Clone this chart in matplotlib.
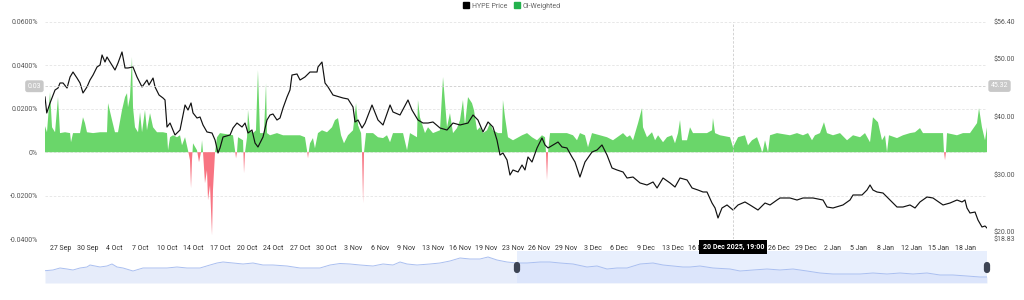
import numpy as np
import matplotlib
matplotlib.use("Agg")
import matplotlib.pyplot as plt
import matplotlib.dates as mdates
from matplotlib.patches import Patch
from datetime import datetime, timedelta

plt.rcParams['font.family'] = ['Roboto', 'DejaVu Sans']

# days counted from 25 Sep 2025 00:00
price_days = [0.53, 0.75, 1.16, 1.79, 2.16, 2.41, 2.79, 3.29, 3.67, 4.04, 4.54, 4.92, 5.29, 5.79, 6.17,
              6.55, 7.05, 7.43, 7.68, 8.05, 8.30, 8.68, 9.30, 9.68, 10.18, 10.56, 10.93, 11.56, 12.06,
              12.69, 13.31, 13.56, 14.07, 14.32, 14.82, 15.32, 15.57, 15.82, 16.20, 16.82, 17.45, 18.08,
              18.45, 18.83, 19.08, 19.58, 19.96, 20.33, 20.83, 21.46, 21.84, 22.21, 22.46, 22.84, 23.72,
              24.09, 24.59, 25.22, 25.60, 25.97, 26.47, 26.85, 27.22, 27.85, 28.35, 28.73, 29.10, 29.60,
              29.98, 30.36, 30.86, 31.23, 31.48, 32.11, 32.49, 33.11, 33.74, 34.62, 34.74, 35.24, 35.62,
              36.00, 36.62, 37.88, 38.50, 39.13, 39.38, 39.76, 40.26, 40.64, 41.51, 42.26, 42.89, 43.77,
              44.14, 45.02, 46.02, 46.52, 47.27, 47.90, 48.53, 49.15, 50.03, 50.91, 51.66, 52.54, 53.54,
              54.17, 54.79, 55.42, 56.05, 56.67, 57.17, 57.55, 57.92, 58.43, 58.80, 59.18, 59.81, 60.31,
              60.68, 61.06, 61.56, 62.19, 62.81, 63.19, 63.57, 64.19, 64.82, 65.32, 65.94, 66.57, 66.95,
              67.57, 68.20, 69.08, 69.71, 70.33, 70.96, 71.59, 72.21, 72.97, 73.47, 74.22, 75.10, 75.97,
              76.73, 77.23, 77.98, 78.86, 79.48, 80.11, 80.99, 81.62, 82.36, 82.99, 83.49, 84.12, 84.50,
              84.87, 85.37, 86.00, 86.75, 87.38, 88.25, 88.88, 89.88, 90.76, 91.39, 92.26, 92.64, 93.89,
              94.77, 95.52, 96.77, 98.03, 98.53, 99.28, 100.53, 101.41, 101.79, 102.92, 103.54, 103.92,
              104.29, 104.79, 105.55, 106.42, 107.30, 108.05, 108.93, 109.56, 110.18, 111.06, 111.81,
              113.07, 113.94, 114.82, 115.45, 115.82, 116.07, 116.45, 117.08, 117.45, 117.95, 118.33, 118.58]
price = [43.42, 40.65, 42.38, 44.63, 44.97, 45.84, 45.84, 44.97, 46.88, 47.74, 46.70, 45.84, 44.11, 45.15, 46.36,
         47.22, 48.61, 48.96, 50.69, 49.47, 50.34, 49.47, 48.09, 49.30, 51.21, 48.44, 48.44, 48.61, 46.88,
         45.15, 46.36, 45.49, 46.70, 45.15, 43.76, 43.24, 42.90, 38.22, 38.91, 36.84, 37.70, 42.03,
         41.16, 42.38, 40.65, 39.78, 39.95, 38.57, 37.36, 37.18, 35.97, 33.72, 34.59, 36.49, 36.84,
         38.05, 38.91, 38.22, 38.91, 37.18, 37.70, 35.45, 34.76, 36.49, 39.43, 40.30, 40.47, 39.43,
         39.78, 41.51, 43.42, 44.63, 47.22, 47.40, 46.36, 46.88, 47.74, 47.74, 48.61, 49.47, 45.84,
         45.15, 43.76, 43.24, 43.07, 41.68, 39.09, 39.43, 38.05, 38.91, 42.03, 39.43, 38.57, 42.03,
         40.82, 40.30, 42.90, 41.16, 39.43, 38.91, 38.91, 39.09, 38.05, 37.70, 38.91, 38.57, 38.91,
         40.30, 39.43, 37.36, 39.09, 38.22, 35.97, 33.37, 33.72, 32.51, 29.91, 30.78, 30.43, 31.64,
         30.78, 33.03, 32.16, 34.59, 36.32, 35.11, 34.59, 35.11, 35.62, 34.76, 34.59, 33.03, 32.16,
         29.56, 32.16, 33.89, 34.24, 35.11, 33.37, 31.12, 30.78, 30.43, 29.39, 29.56, 28.53, 28.18,
         28.70, 27.66, 29.39, 28.53, 27.83, 29.39, 29.05, 27.66, 27.31, 26.97, 26.97, 25.06, 24.20,
         22.47, 24.20, 24.72, 23.85, 24.72, 25.24, 24.72, 23.85, 25.06, 24.72, 25.58, 25.93, 25.93,
         25.58, 25.93, 25.93, 25.58, 24.37, 24.20, 24.72, 25.58, 26.45, 26.45, 27.31, 28.18,
         27.31, 26.97, 26.79, 25.58, 24.37, 24.37, 24.72, 24.20, 25.24, 26.10, 25.93,
         24.72, 25.06, 25.58, 25.24, 25.58, 24.20, 23.33, 23.50, 22.12, 20.91, 21.08, 20.73]

# OI-weighted funding rate, in %
fund_days = [0.53, 0.78, 1.16, 1.41, 1.79, 2.16, 2.41, 3.04, 3.67, 3.79, 4.04, 4.92, 5.29, 5.54, 5.79, 6.55,
             7.43, 8.30, 8.43, 8.93, 9.30, 9.68, 10.18, 10.56, 10.81, 10.93, 11.18, 11.43, 11.56, 11.81,
             12.19, 12.44, 12.69, 13.06, 13.31, 13.69, 14.07, 14.57, 15.32, 15.82, 15.95, 16.20, 16.57,
             17.07, 17.45, 17.70, 18.08, 18.45, 18.70, 18.83, 18.95, 19.08, 19.58, 19.83, 20.08, 20.21,
             20.33, 20.58, 20.83, 20.96, 21.21, 21.46, 21.58, 21.84, 22.09, 22.46, 24.09, 24.34, 24.47,
             24.59, 24.72, 25.35, 25.47, 25.60, 25.85, 25.97, 26.22, 26.60, 26.97, 27.22, 27.47, 27.97,
             28.23, 28.35, 28.73, 29.60, 30.36, 31.61, 32.49, 33.11, 33.36, 33.49, 33.61, 33.74, 34.11,
             34.36, 34.74, 35.24, 35.87, 36.50, 36.87, 37.25, 37.63, 38.00, 38.50, 39.13, 39.51, 39.76,
             40.14, 40.26, 40.39, 40.51, 40.76, 41.64, 42.26, 42.89, 43.39, 43.77, 44.14, 45.40, 45.90,
             46.27, 47.15, 47.27, 47.52, 48.15, 48.53, 49.15, 50.03, 50.41, 50.91, 51.28, 51.66, 52.16,
             52.54, 52.91, 53.16, 53.54, 54.04, 54.29, 54.67, 55.04, 55.42, 55.92, 56.30, 56.67, 57.30,
             57.80, 57.92, 58.18, 58.55, 59.18, 59.68, 60.31, 60.94, 61.56, 62.19, 62.81, 63.19, 63.31,
             63.44, 63.57, 63.82, 64.69, 65.94, 66.70, 67.20, 67.57, 68.20, 68.58, 69.08, 70.08, 70.96,
             71.71, 72.59, 72.97, 73.47, 73.84, 74.22, 74.85, 75.35, 75.47, 75.97, 76.60, 76.98, 77.36,
             77.98, 78.48, 79.11, 79.48, 79.86, 80.11, 80.36, 80.99, 81.36, 81.74, 83.49, 84.12, 84.24,
             84.50, 85.12, 86.38, 86.75, 87.38, 88.25, 88.63, 89.13, 89.76, 90.26, 90.38, 90.51, 90.76,
             91.01, 91.14, 91.39, 92.26, 93.89, 94.77, 95.52, 96.15, 96.65, 97.02, 97.65, 98.15, 98.53,
             99.28, 100.16, 101.04, 101.79, 102.67, 103.29, 103.92, 104.29, 104.92, 105.42, 105.80,
             106.05, 106.30, 107.30, 108.05, 108.93, 109.56, 110.18, 110.56, 111.81, 113.07, 113.19,
             113.32, 113.44, 113.57, 114.82, 115.57, 116.45, 117.33, 117.58, 117.95, 118.33, 118.58]
funding = [0.0120, 0.0092, 0.0277, 0.0115, 0.0092, 0.0254, 0.0088, 0.0092, 0.0088, 0.0046, 0.0088, 0.0088,
           0.0161, 0.0134, 0.0092, 0.0088, 0.0092, 0.0092, 0.0226, 0.0148, 0.0092, 0.0092, 0.0194, 0.0254,
           0.0272, 0.0207, 0.0254, 0.0438, 0.0207, 0.0115, 0.0092, 0.0184, 0.0092, 0.0194, 0.0101, 0.0180,
           0.0115, 0.0092, 0.0092, 0.0088, 0.0009, 0.0069, 0.0078, 0.0069, 0.0078, 0.0032, 0.0069, 0.0009,
           -0.0037, -0.0166, -0.0037, 0.0041, 0.0009, -0.0046, 0.0, 0.0055, 0.0, -0.0143, -0.0083, -0.0221,
           -0.0152, -0.0383, -0.0175, 0.0, 0.0069, 0.0088, 0.0078, 0.0009, -0.0028, 0.0, 0.0069, 0.0055,
           -0.0097, 0.0, 0.0069, 0.0194, 0.0101, 0.0088, 0.0101, 0.0378, 0.0088, 0.0088, 0.0318, 0.0088,
           0.0078, 0.0088, 0.0078, 0.0078, 0.0078, 0.0069, 0.0009, -0.0028, 0.0009, 0.0041, 0.0065, 0.0018,
           0.0088, 0.0101, 0.0092, 0.0115, 0.0148, 0.0157, 0.0078, 0.0041, 0.0078, 0.0101, 0.0226, 0.0124,
           0.0088, 0.0, -0.0235, 0.0, 0.0088, 0.0088, 0.0069, 0.0065, 0.0078, 0.0046, 0.0088, 0.0088, 0.0009,
           0.0088, 0.0069, 0.0240, 0.0161, 0.0088, 0.0115, 0.0088, 0.0101, 0.0346, 0.0115, 0.0180, 0.0088,
           0.0111, 0.0148, 0.0240, 0.0124, 0.0254, 0.0226, 0.0194, 0.0101, 0.0115, 0.0088, 0.0101, 0.0134,
           0.0101, 0.0088, 0.0088, 0.0240, 0.0161, 0.0069, 0.0055, 0.0065, 0.0078, 0.0088, 0.0069, 0.0055,
           0.0078, 0.0069, 0.0, -0.0129, 0.0, 0.0088, 0.0088, 0.0088, 0.0078, 0.0055, 0.0088, 0.0078, 0.0023,
           0.0088, 0.0078, 0.0069, 0.0055, 0.0078, 0.0088, 0.0069, 0.0078, 0.0055, 0.0134, 0.0203, 0.0115,
           0.0069, 0.0092, 0.0055, 0.0078, 0.0046, 0.0069, 0.0078, 0.0041, 0.0088, 0.0148, 0.0055, 0.0055,
           0.0115, 0.0088, 0.0088, 0.0101, 0.0157, 0.0088, 0.0078, 0.0069, 0.0023, 0.0069, 0.0078, 0.0032,
           0.0055, 0.0069, 0.0018, 0.0, 0.0009, 0.0055, 0.0018, 0.0, 0.0078, 0.0088, 0.0078, 0.0088, 0.0078,
           0.0088, 0.0055, 0.0078, 0.0088, 0.0138, 0.0088, 0.0078, 0.0088, 0.0055, 0.0078, 0.0069, 0.0088,
           0.0046, 0.0161, 0.0138, 0.0055, 0.0078, 0.0, 0.0078, 0.0065, 0.0078, 0.0088, 0.0092, 0.0111,
           0.0088, 0.0088, 0.0088, 0.0, -0.0037, 0.0, 0.0088, 0.0078, 0.0088, 0.0088, 0.0134, 0.0203, 0.0115,
           0.0055, 0.0115]

# navigator (overview) series, arbitrary units
nav_days = [0.53, 1.53, 2.41, 3.29, 4.04, 4.92, 5.79, 6.17, 6.80, 7.43, 8.30, 8.93, 9.56, 10.31, 11.56, 12.81,
            14.57, 15.82, 17.07, 18.33, 19.96, 21.21, 22.09, 22.84, 24.09, 25.35, 26.60, 27.85, 29.10, 30.86,
            32.49, 33.74, 34.99, 36.25, 37.50, 38.75, 40.01, 41.64, 42.89, 44.14, 45.02, 45.90, 47.15, 48.78,
            50.03, 51.28, 52.54, 53.79, 55.04, 56.05, 57.17, 58.43, 59.68, 60.94, 62.57, 63.82, 65.07, 66.70,
            68.45, 69.71, 70.96, 72.21, 73.47, 75.10, 76.73, 77.98, 79.23, 80.48, 81.36, 82.61, 84.24, 86.38,
            87.63, 89.26, 91.01, 92.64, 94.27, 96.02, 97.65, 99.28, 101.04, 102.67, 104.29, 106.05, 107.68,
            109.31, 111.06, 112.69, 114.32, 116.07, 117.70, 118.58]
nav_vals = [12.3, 13, 15, 14, 13, 15, 16, 18, 17, 16, 17, 19, 16, 15, 12, 15, 15, 15, 16, 15, 15, 18, 20, 21, 20,
            19, 20, 18, 18, 17, 15, 15, 15, 18, 19.5, 19, 18, 17, 19, 18, 21, 19, 18, 19, 20, 22, 25, 24, 24,
            26, 23, 21, 20, 20, 21, 21, 20, 19, 16, 17, 14, 15, 15, 19, 20, 18, 17, 16, 16, 17, 15, 14, 12, 13,
            14, 13, 14, 12, 10, 9, 9, 9, 10, 9, 10, 9, 10, 8, 8, 7, 6, 6]

left_ticks = [-0.04, -0.02, 0.0, 0.02, 0.04, 0.06]
right_ticks = [18.83, 20.0, 30.0, 40.0, 50.0, 56.40]
cursor_time = datetime(2025, 12, 20, 19, 0)
cursor_fund = 0.0304
cursor_price = 45.32
window_start = 59.68

base = mdates.date2num(datetime(2025, 9, 25))
px = base + np.array(price_days)
fx = base + np.array(fund_days)
nx = base + np.array(nav_days)
fv = np.array(funding)
xlim = (base + 0.53, base + 118.58)

fig = plt.figure(figsize=(10.24, 3.0), dpi=100)
ax = fig.add_axes([45 / 1024, 1 - 239 / 300, 942 / 1024, 217 / 300])
ax2 = ax.twinx()

ax.fill_between(fx, fv, 0, where=fv >= 0, interpolate=True, color='#6ad66a', lw=0)
ax.fill_between(fx, fv, 0, where=fv <= 0, interpolate=True, color='#f87482', lw=0)
ax.set_ylim(-0.04, 0.06)
ax.set_xlim(xlim)
ax.set_yticks(left_ticks)
ax.set_yticklabels(['0%' if t == 0 else f'{t:.4f}%' for t in left_ticks])
ax.grid(axis='y', color='#e4e4e4', linestyle=(0, (3, 2)), linewidth=0.6)
ax.set_axisbelow(True)

ax2.plot(px, price, color='#111111', lw=0.85)
ax2.set_ylim(18.83, 56.40)
ax2.set_yticks(right_ticks)
ax2.set_yticklabels([f'${t:.2f}' for t in right_ticks])

# x ticks every 80 hours; the two under the cursor tooltip are hidden
t0 = datetime(2025, 9, 27, 12, 0)
cx = mdates.date2num(cursor_time)
ticks = [mdates.date2num(t0 + timedelta(hours=80 * i)) for i in range(35)]
ticks = [t for t in ticks if abs(t - cx) > 2.6]
ax.set_xticks(ticks)
ax.xaxis.set_major_formatter(plt.FuncFormatter(
    lambda v, p: f"{mdates.num2date(v).day} {mdates.num2date(v).strftime('%b')}"))

for a in (ax, ax2):
    for s in a.spines.values():
        s.set_visible(False)
    a.tick_params(length=0, labelsize=5, colors='#444444')
ax.tick_params(axis='y', pad=5, labelcolor='#555555')
ax2.tick_params(axis='y', pad=5, labelcolor='#555555')
ax.tick_params(axis='x', pad=4, labelcolor='#333333')

# crosshair
ax2.axvline(cx, color='#cccccc', lw=0.6, ls=(0, (3, 2)))
ax2.axhline(cursor_price, color='#cccccc', lw=0.6, ls=(0, (3, 2)))
ax.text(-0.004, cursor_fund, '0.03', transform=ax.get_yaxis_transform(), ha='right', va='center',
        fontsize=5, color='white', bbox=dict(boxstyle='round,pad=0.35', fc='#c8c8c8', ec='none'))
ax2.text(1.004, cursor_price, '45.32', transform=ax2.get_yaxis_transform(), ha='left', va='center',
         fontsize=5, color='white', bbox=dict(boxstyle='round,pad=0.35', fc='#c8c8c8', ec='none'))
fig.text((cx - xlim[0]) / (xlim[1] - xlim[0]) * 942 / 1024 + 45 / 1024, 1 - 247 / 300,
         cursor_time.strftime('%d %b %Y, %H:%M'), ha='center', va='center', fontsize=5,
         color='white', fontweight='bold',
         bbox=dict(boxstyle='square,pad=0.45', fc='black', ec='none'))

# legend
fig.legend(handles=[Patch(color='black', label='HYPE Price'), Patch(color='#22b14c', label='OI-Weighted')],
           loc='center', bbox_to_anchor=(512 / 1024, 1 - 6 / 300), ncol=2, frameon=False, fontsize=5,
           handlelength=0.8, handleheight=0.8, handletextpad=0.4, columnspacing=1.0, labelcolor='#666666')

# navigator
nav = fig.add_axes([45 / 1024, 1 - 283 / 300, 942 / 1024, 32 / 300])
nav.fill_between(nx, nav_vals, 0, color='#e6ecfa', lw=0)
nav.plot(nx, nav_vals, color='#aabff0', lw=0.7)
nav.axvspan(base + window_start, xlim[1], color='#d3e0fd', alpha=0.5, lw=0)
nav.set_xlim(xlim)
nav.set_ylim(0, 32)
nav.axis('off')
for d in (window_start, 118.58):
    nav.plot([base + d, base + d], [13.5, 18.5], color='#3d4454', lw=4.5, solid_capstyle='round',
             clip_on=False)

fig.savefig('out.png', dpi=100)
